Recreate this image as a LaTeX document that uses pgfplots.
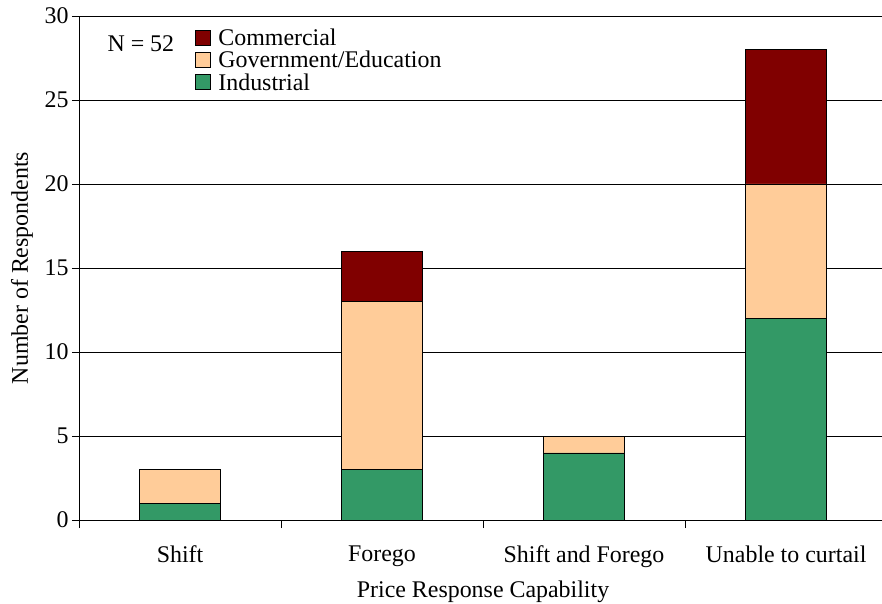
\documentclass[border=0pt]{standalone}
\usepackage{pgfplots}
\pgfplotsset{compat=1.18}
\usepackage{fontspec}
\setmainfont{Liberation Serif}
\definecolor{comm}{HTML}{800000}
\definecolor{gov}{HTML}{FFCC99}
\definecolor{ind}{HTML}{339966}
\begin{document}
\begin{tikzpicture}
\begin{axis}[
  scale only axis, width=803bp, height=504bp,
  xmin=-0.5, xmax=3.475, ymin=0, ymax=30,
  ybar stacked, bar width=0.4,
  font=\fontsize{24}{24}\selectfont,
  /pgf/number format/assume math mode=true,
  xtick={0,1,2,3},
  xticklabels={Shift,Forego,Shift and Forego,Unable to curtail},
  xticklabel style={yshift=-15bp},
  major x tick style={draw=none},
  minor xtick={-0.5,0.5,1.5,2.5},
  minor tick length=8bp, major tick length=7bp,
  tick align=outside,
  ytick={0,5,...,30},
  ymajorgrids, grid style={black, line width=0.6pt},
  axis x line*=bottom, axis y line*=left,
  axis line style={-, line width=0.6pt},
  tick style={black, line width=0.6pt},
  every axis y label/.style={at={(rel axis cs:0,0.5)}, xshift=-57bp, rotate=90, anchor=center},
  every axis x label/.style={at={(axis cs:1.5,0)}, yshift=-72bp, anchor=center},
  ylabel={Number of Respondents},
  xlabel={Price Response Capability},
  reverse legend,
  legend image code/.code={\draw[#1,draw=black,line width=0.6pt] (0bp,-7bp) rectangle (15bp,8bp);},
  legend style={draw=none, fill=none, at={(rel axis cs:0.144,0.978)}, anchor=north west,
    font=\fontsize{24}{22}\selectfont, row sep=0bp, column sep=6bp, inner sep=0pt},
  legend cell align=left,
]
\addplot[fill=ind, draw=black, line width=0.6pt] coordinates {(0,1) (1,3) (2,4) (3,12)};
\addplot[fill=gov, draw=black, line width=0.6pt] coordinates {(0,2) (1,10) (2,1) (3,8)};
\addplot[fill=comm, draw=black, line width=0.6pt] coordinates {(0,0) (1,3) (2,0) (3,8)};
\legend{Industrial, Government/Education, Commercial}
\node[anchor=center] at (rel axis cs:0.077,0.946) {N = 52};
\coordinate (bl) at (rel axis cs:0,0);
\coordinate (tr) at (rel axis cs:1,1);
\end{axis}
\pgfresetboundingbox
\path[use as bounding box] ([xshift=-79bp,yshift=-84bp]bl) rectangle ([yshift=16bp]tr);
\end{tikzpicture}
\end{document}
